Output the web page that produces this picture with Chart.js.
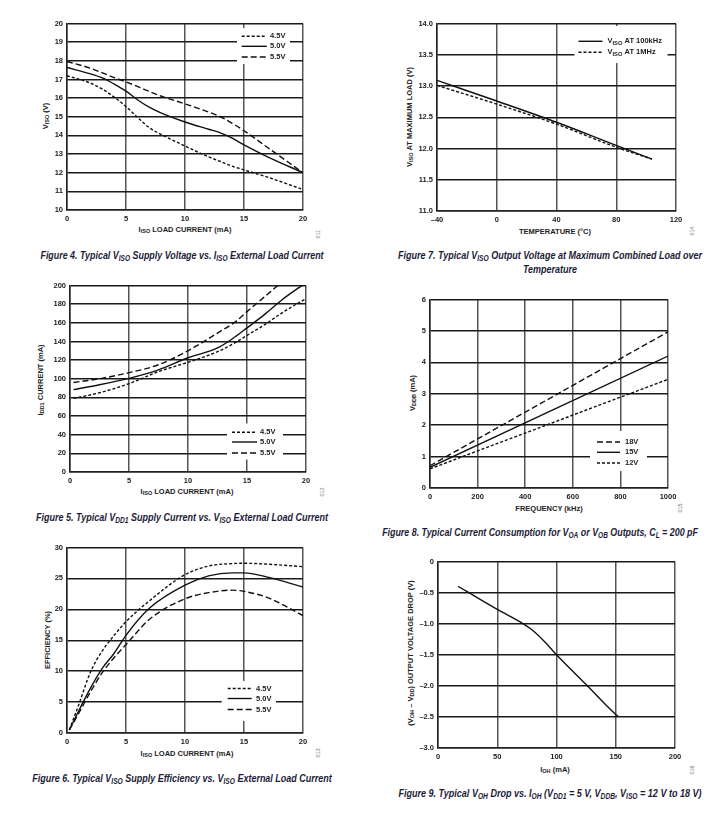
<!DOCTYPE html>
<html>
<head>
<meta charset="utf-8">
<script src="https://cdn.jsdelivr.net/npm/chart.js@4.4.1/dist/chart.umd.min.js"></script>
<style>
  body { margin: 0; background: #fff; width: 724px; height: 826px; position: relative; overflow: hidden;
         font-family: "Liberation Sans", Arial, sans-serif; }
  .t { position: absolute; white-space: nowrap; font-weight: bold; font-size: 7.5px; color: #222;
       transform: translate(-50%, -50%); }
  .t.r { transform: translate(-50%, -50%) rotate(-90deg); }
  .t sub, .cap sub { font-size: 0.74em; vertical-align: -0.3em; line-height: 0; }
  .cap { position: absolute; white-space: nowrap; font-family: "Liberation Sans Narrow", "Liberation Sans", Arial, sans-serif;
         font-weight: bold; font-style: italic; font-size: 11px; color: #1c1c38; transform-origin: center; }
  .tag { position: absolute; font-size: 5.5px; color: #777; transform: translate(-50%, -50%) rotate(-90deg); }
</style>
</head>
<body>

<!-- axis titles -->
<div class="t r" style="left:45px;top:116px">V<sub>ISO</sub> (V)</div>
<div class="t" style="left:185px;top:229px">I<sub>ISO</sub> LOAD CURRENT (mA)</div>
<div class="tag" style="left:318px;top:234px">011</div>

<div class="t r" style="left:409px;top:117px">V<sub>ISO</sub> AT MAXIMUM LOAD (V)</div>
<div class="t" style="left:555px;top:231px">TEMPERATURE (°C)</div>
<div class="tag" style="left:692px;top:231px">014</div>

<div class="t r" style="left:40px;top:380px">I<sub>DD1</sub> CURRENT (mA)</div>
<div class="t" style="left:187px;top:491px">I<sub>ISO</sub> LOAD CURRENT (mA)</div>
<div class="tag" style="left:322px;top:492px">012</div>

<div class="t r" style="left:412px;top:393px">V<sub>DDB</sub> (mA)</div>
<div class="t" style="left:549px;top:508px">FREQUENCY (kHz)</div>
<div class="tag" style="left:680px;top:508px">015</div>

<div class="t r" style="left:47px;top:640px">EFFICIENCY (%)</div>
<div class="t" style="left:187px;top:753px">I<sub>ISO</sub> LOAD CURRENT (mA)</div>
<div class="tag" style="left:318px;top:753px">013</div>

<div class="t r" style="left:410px;top:653px">(V<sub>OH</sub> – V<sub>DD</sub>) OUTPUT VOLTAGE DROP (V)</div>
<div class="t" style="left:555px;top:769px">I<sub>OH</sub> (mA)</div>
<div class="tag" style="left:692px;top:770px">016</div>

<!-- captions -->
<div class="cap" data-x="182" data-y="255" data-w="283">Figure 4. Typical V<sub>ISO</sub> Supply Voltage vs. I<sub>ISO</sub> External Load Current</div>
<div class="cap" data-x="550" data-y="255" data-w="304">Figure 7. Typical V<sub>ISO</sub> Output Voltage at Maximum Combined Load over</div>
<div class="cap" data-x="550" data-y="269" data-w="54">Temperature</div>
<div class="cap" data-x="182" data-y="517" data-w="292">Figure 5. Typical V<sub>DD1</sub> Supply Current vs. V<sub>ISO</sub> External Load Current</div>
<div class="cap" data-x="540" data-y="532" data-w="316">Figure 8. Typical Current Consumption for V<sub>OA</sub> or V<sub>OB</sub> Outputs, C<sub>L</sub> = 200 pF</div>
<div class="cap" data-x="182" data-y="778" data-w="300">Figure 6. Typical V<sub>ISO</sub> Supply Efficiency vs. V<sub>ISO</sub> External Load Current</div>
<div class="cap" data-x="550" data-y="793" data-w="303">Figure 9. Typical V<sub>OH</sub> Drop vs. I<sub>OH</sub> (V<sub>DD1</sub> = 5 V, V<sub>DDB</sub>, V<sub>ISO</sub> = 12 V to 18 V)</div>

<script>
// ---- data ----

// Figure 4: VISO vs ISO load current
const fig4Load = [0, 2, 3, 4, 5, 6, 7, 8, 10, 12, 13, 14, 15, 17, 20];
const fig4V45 = [17.2, 16.8, 16.48, 16.05, 15.55, 14.95, 14.4, 14.05, 13.43, 12.85, 12.6, 12.35, 12.15, 11.76, 11.1];
const fig4V50 = [17.64, 17.3, 17.08, 16.75, 16.37, 15.9, 15.5, 15.2, 14.72, 14.33, 14.14, 13.85, 13.49, 12.85, 12.0];
const fig4V55 = [17.96, 17.6, 17.35, 17.1, 16.87, 16.62, 16.35, 16.1, 15.69, 15.25, 15.0, 14.65, 14.25, 13.35, 12.0];
const fig4XTicks = [0, 5, 10, 15, 20];
const fig4XLabels = ['0', '5', '10', '15', '20'];
const fig4YTicks = [10, 11, 12, 13, 14, 15, 16, 17, 18, 19, 20];
const fig4YLabels = ['10', '11', '12', '13', '14', '15', '16', '17', '18', '19', '20'];

// Figure 7: VISO at max load vs temperature
const fig7Temp = [-40, 0, 40, 80, 104];
const fig7V100k = [13.09, 12.76, 12.42, 12.05, 11.83];
const fig7V1M = [13.01, 12.71, 12.39, 12.02, 11.83];
const fig7XTicks = [-40, 0, 40, 80, 120];
const fig7XLabels = ['–40', '0', '40', '80', '120'];
const fig7YTicks = [11, 11.5, 12, 12.5, 13, 13.5, 14];
const fig7YLabels = ['11.0', '11.5', '12.0', '12.5', '13.0', '13.5', '14.0'];

// Figure 5: IDD1 current vs ISO load current
const fig5Load = [0.3, 2.5, 5, 7.5, 10, 12.5, 14, 15, 16.5, 18, 20];
const fig5V45 = [79, 85, 94.7, 107.7, 117.6, 129, 138.7, 146.5, 158, 171, 186];
const fig5V50 = [88.4, 93.5, 100.4, 109.5, 122.5, 133, 145, 154.5, 169, 185, 203];
const fig5V55 = [96, 100, 106.5, 115, 130, 149, 161, 172, 188, 204, 222];
const fig5YTicks = [0, 20, 40, 60, 80, 100, 120, 140, 160, 180, 200];
const fig5YLabels = ['0', '20', '40', '60', '80', '100', '120', '140', '160', '180', '200'];

// Figure 8: current consumption vs frequency
const fig8Freq = [0, 1000];
const fig8V18 = [0.71, 4.97];
const fig8V15 = [0.66, 4.2];
const fig8V12 = [0.61, 3.46];
const fig8XTicks = [0, 200, 400, 600, 800, 1000];
const fig8XLabels = ['0', '200', '400', '600', '800', '1000'];
const fig8YTicks = [0, 1, 2, 3, 4, 5, 6];
const fig8YLabels = ['0', '1', '2', '3', '4', '5', '6'];

// Figure 6: efficiency vs ISO load current
const fig6Load = [0.2, 1, 2, 3, 4, 5, 7, 10, 12, 14, 15, 17, 20];
const fig6V45 = [0.5, 4.6, 9.9, 13.3, 15.8, 18, 21.4, 25.6, 27, 27.4, 27.45, 27.3, 26.9];
const fig6V50 = [0.5, 3.6, 7.3, 10.5, 12.9, 15.8, 20.2, 23.9, 25.4, 25.9, 25.9, 25.2, 23.6];
const fig6V55 = [0.5, 3.2, 6.7, 9.8, 12.2, 14.3, 18.4, 21.7, 22.7, 23.1, 22.9, 21.9, 19.0];
const fig6YTicks = [0, 5, 10, 15, 20, 25, 30];
const fig6YLabels = ['0', '5', '10', '15', '20', '25', '30'];

// Figure 9: VOH drop vs IOH
const fig9Ioh = [17, 25, 50, 70, 80, 90, 100, 125, 150, 152];
const fig9Drop = [-0.40, -0.49, -0.77, -0.98, -1.11, -1.29, -1.50, -1.98, -2.46, -2.49];
const fig9XTicks = [0, 50, 100, 150, 200];
const fig9XLabels = ['0', '50', '100', '150', '200'];
const fig9YTicks = [-3, -2.5, -2, -1.5, -1, -0.5, 0];
const fig9YLabels = ['–3.0', '–2.5', '–2.0', '–1.5', '–1.0', '–0.5', '0'];

// ---- drawing ----
const SHORT = [3, 2];
const LONG = [6, 3];
const YW = 34, XH = 16, PT = 6, PR = 14;
const FONT = '"Liberation Sans", Arial, sans-serif';

function drawRich(ctx, text, x, y) {
  const parts = text.split(/_\{([^}]*)\}/);
  ctx.fillStyle = '#222';
  ctx.textBaseline = 'middle';
  ctx.textAlign = 'left';
  parts.forEach((p, k) => {
    const sub = k % 2 === 1;
    ctx.font = 'bold ' + (sub ? 5.8 : 7.5) + 'px ' + FONT;
    ctx.fillText(p, x, y + (sub ? 2 : 0));
    x += ctx.measureText(p).width;
  });
}

// legend drawn inside the plot on a white patch
const boxLegend = {
  id: 'boxLegend',
  afterDatasetsDraw(chart, args, o) {
    if (!o || !o.box) return;
    const { ctx, chartArea: a } = chart;
    ctx.save();
    ctx.fillStyle = '#fff';
    ctx.fillRect(a.left + o.box[0], a.top + o.box[1], o.box[2], o.box[3]);
    chart.data.datasets.forEach((ds, i) => {
      const y = a.top + o.rows[i];
      ctx.strokeStyle = '#111';
      ctx.lineWidth = 1.4;
      ctx.setLineDash(ds.borderDash || []);
      ctx.beginPath();
      ctx.moveTo(a.left + o.line[0], y);
      ctx.lineTo(a.left + o.line[1], y);
      ctx.stroke();
      ctx.setLineDash([]);
      drawRich(ctx, ds.label, a.left + o.text, y);
    });
    ctx.restore();
  }
};

function series(label, xs, ys, dash) {
  return {
    label,
    data: xs.map((x, i) => ({ x, y: ys[i] })),
    borderColor: '#111',
    borderWidth: 1.4,
    borderDash: dash,
    fill: false,
    pointRadius: 0,
    cubicInterpolationMode: 'monotone'
  };
}

function axis(vals, labels, dir) {
  return {
    type: 'linear',
    min: vals[0],
    max: vals[vals.length - 1],
    afterBuildTicks: s => { s.ticks = vals.map(v => ({ value: v })); },
    afterFit: s => { if (dir === 'x') s.height = XH; else s.width = YW; },
    ticks: {
      padding: 4, color: '#222', autoSkip: false, maxRotation: 0,
      font: { family: FONT, size: 7.5, weight: 'bold' },
      callback: (v, i) => labels[i]
    },
    grid: { color: dir === 'x' ? '#555' : '#1a1a1a', lineWidth: 1.5, drawTicks: false },
    border: { color: '#222', width: 1.5 }
  };
}

function makeChart(plot, xs, ys, datasets, legend) {
  const c = document.createElement('canvas');
  const w = plot.R - plot.L + YW + PR;
  const h = plot.B - plot.T + PT + XH;
  c.width = w; c.height = h;
  c.style.cssText = 'position:absolute;left:' + (plot.L - YW) + 'px;top:' + (plot.T - PT) + 'px;width:' + w + 'px;height:' + h + 'px';
  document.body.appendChild(c);
  new Chart(c, {
    type: 'line',
    data: { datasets },
    options: {
      responsive: false,
      animation: false,
      layout: { padding: { top: PT, right: PR, left: 0, bottom: 0 } },
      plugins: { legend: { display: false }, tooltip: { enabled: false }, boxLegend: legend || {} },
      scales: { x: axis(xs[0], xs[1], 'x'), y: axis(ys[0], ys[1], 'y') }
    },
    plugins: [boxLegend]
  });
}

// Figure 4
makeChart({ L: 67, R: 303, T: 20.5, B: 210 }, [fig4XTicks, fig4XLabels], [fig4YTicks, fig4YLabels], [
  series('4.5V', fig4Load, fig4V45, SHORT),
  series('5.0V', fig4Load, fig4V50, []),
  series('5.5V', fig4Load, fig4V55, LONG)
], { box: [170, 4.5, 53, 36], rows: [12.8, 22.8, 33.5], line: [174.7, 199.7], text: 203 });

// Figure 7
makeChart({ L: 436.5, R: 675.5, T: 20.5, B: 211 }, [fig7XTicks, fig7XLabels], [fig7YTicks, fig7YLabels], [
  series('V_{ISO} AT 100kHz', fig7Temp, fig7V100k, []),
  series('V_{ISO} AT 1MHz', fig7Temp, fig7V1M, SHORT)
], { box: [137.5, 2.5, 93, 37], rows: [17.8, 28.8], line: [141.5, 165.5], text: 170.5 });

// Figure 5
makeChart({ L: 70, R: 306, T: 282.5, B: 472 }, [fig4XTicks, fig4XLabels], [fig5YTicks, fig5YLabels], [
  series('4.5V', fig5Load, fig5V45, SHORT),
  series('5.0V', fig5Load, fig5V50, []),
  series('5.5V', fig5Load, fig5V55, LONG)
], { box: [157, 138, 56, 36], rows: [146.8, 156.5, 167.5], line: [162, 187], text: 190 });

// Figure 8
makeChart({ L: 430, R: 668, T: 296.5, B: 487.5 }, [fig8XTicks, fig8XLabels], [fig8YTicks, fig8YLabels], [
  series('18V', fig8Freq, fig8V18, LONG),
  series('15V', fig8Freq, fig8V15, []),
  series('12V', fig8Freq, fig8V12, SHORT)
], { box: [160, 131.5, 57, 40], rows: [142.5, 152.8, 163.5], line: [167, 190], text: 195 });

// Figure 6
makeChart({ L: 67, R: 303, T: 544.5, B: 732.5 }, [fig4XTicks, fig4XLabels], [fig6YTicks, fig6YLabels], [
  series('4.5V', fig6Load, fig6V45, SHORT),
  series('5.0V', fig6Load, fig6V50, []),
  series('5.5V', fig6Load, fig6V55, LONG)
], { box: [154.7, 133.5, 54.3, 40], rows: [141, 151, 162], line: [160.7, 184.7], text: 189 });

// Figure 9
makeChart({ L: 437.5, R: 674.5, T: 558.5, B: 747.5 }, [fig9XTicks, fig9XLabels], [fig9YTicks, fig9YLabels], [
  series('I_{OH}', fig9Ioh, fig9Drop, [])
]);

// squeeze the captions to the width they take in the print
document.querySelectorAll('.cap').forEach(el => {
  const s = +el.dataset.w / el.offsetWidth;
  el.style.left = el.dataset.x + 'px';
  el.style.top = el.dataset.y + 'px';
  el.style.transform = 'translate(-50%, -50%) scaleX(' + s.toFixed(3) + ')';
});
</script>
</body>
</html>
